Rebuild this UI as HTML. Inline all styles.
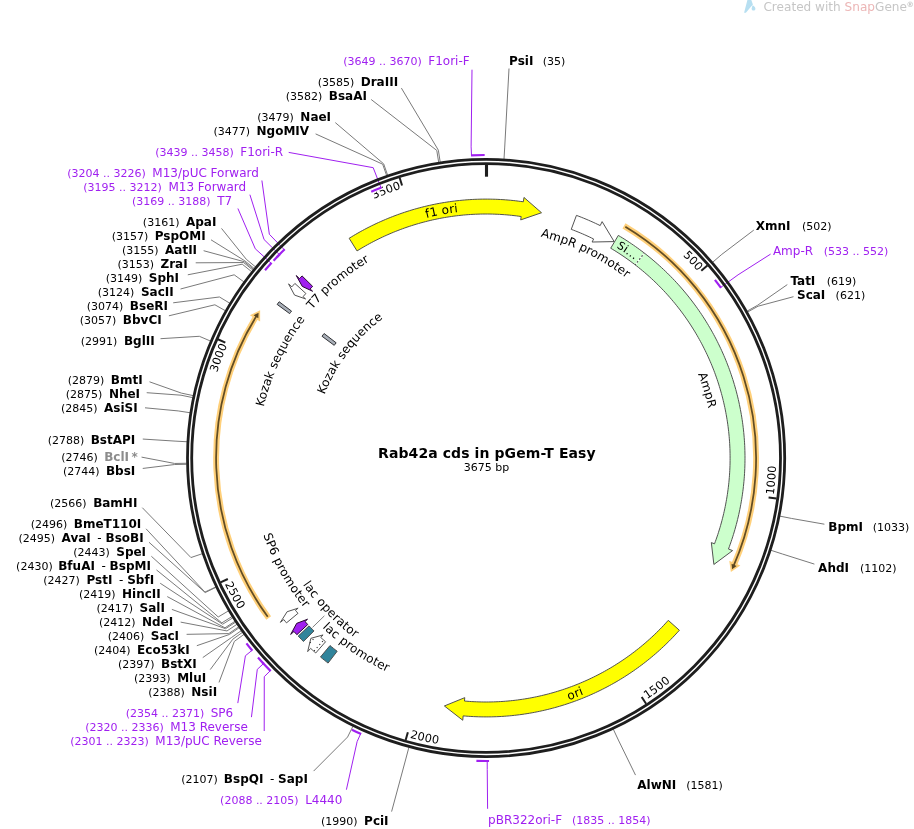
<!DOCTYPE html>
<html lang="en"><head><meta charset="utf-8"><title>Rab42a cds in pGem-T Easy</title>
<style>html,body{margin:0;padding:0;background:#fff}body{width:914px;height:829px;overflow:hidden}svg{display:block;will-change:transform}text{font-family:'DejaVu Sans','Liberation Sans',sans-serif}</style>
</head><body>
<svg width="914" height="829" viewBox="0 0 914 829">
<rect width="914" height="829" fill="#fff"/>
<g id="watermark">
<path d="M747.4,0 L751.3,0 L752.9,4.4 Q749.2,8.6 745.9,12.7 L744.1,12.8 Z" fill="#b7dff1"/>
<path d="M752.6,5.2 C754.4,6.2 755.6,7.6 755.4,9.0 C755.2,10.3 754.0,10.9 753.0,10.5 C751.9,10.1 751.4,9.0 751.7,7.9 Z" fill="#b7dff1"/>
<text x="763.4" y="10.9" font-size="12.1" fill="#c6c6c6">Created with <tspan fill="#ecb6b6">Snap</tspan>Gene<tspan font-size="7.4" font-weight="bold" dy="-4.3" dx="-0.4">®</tspan></text>
</g>
<g id="ticklabels">
<path id="tk500" d="M645.31,224.88 A282.3,282.3 0 0 1 698.03,271.51" fill="none"/>
<text font-size="11.3" letter-spacing="0.2" fill="#000" text-anchor="end"><textPath href="#tk500" startOffset="100%">500</textPath></text>
<path id="tk1000" d="M773.73,494.98 A290,290 0 0 0 773.94,422.67" fill="none"/>
<text font-size="11.3" letter-spacing="0.2" fill="#000"><textPath href="#tk1000" startOffset="0">1000</textPath></text>
<path id="tk1500" d="M646.98,699.29 A290,290 0 0 0 701.67,651.98" fill="none"/>
<text font-size="11.3" letter-spacing="0.2" fill="#000"><textPath href="#tk1500" startOffset="0">1500</textPath></text>
<path id="tk2000" d="M409.64,737.74 A290,290 0 0 0 481.23,747.96" fill="none"/>
<text font-size="11.3" letter-spacing="0.2" fill="#000"><textPath href="#tk2000" startOffset="0">2000</textPath></text>
<path id="tk2500" d="M224.86,583.92 A290,290 0 0 0 264.14,644.63" fill="none"/>
<text font-size="11.3" letter-spacing="0.2" fill="#000"><textPath href="#tk2500" startOffset="0">2500</textPath></text>
<path id="tk3000" d="M207.45,412.73 A282.3,282.3 0 0 1 227.32,345.19" fill="none"/>
<text font-size="11.3" letter-spacing="0.2" fill="#000" text-anchor="end"><textPath href="#tk3000" startOffset="100%">3000</textPath></text>
<path id="tk3500" d="M337.38,218.05 A282.3,282.3 0 0 1 401.36,188.72" fill="none"/>
<text font-size="11.3" letter-spacing="0.2" fill="#000" text-anchor="end"><textPath href="#tk3500" startOffset="100%">3500</textPath></text>
</g>
<g id="halos">
<path d="M470.97,155.38 A303,303 0 0 1 484.66,155" fill="none" stroke="#fff" stroke-width="4.2"/>
<path d="M371.24,191.71 A290,290 0 0 1 381.51,187.52" fill="none" stroke="#fff" stroke-width="4.2"/>
<path d="M276.66,257.41 A290,290 0 0 1 284.71,249.33" fill="none" stroke="#fff" stroke-width="4.2"/>
<path d="M273.6,260.66 A290,290 0 0 1 279.77,254.21" fill="none" stroke="#fff" stroke-width="4.2"/>
<path d="M265.03,270.31 A290,290 0 0 1 271.6,262.84" fill="none" stroke="#fff" stroke-width="4.2"/>
<path d="M252.34,650.78 A303,303 0 0 1 246.45,643.41" fill="none" stroke="#fff" stroke-width="4.2"/>
<path d="M263.91,664.01 A303,303 0 0 1 258,657.44" fill="none" stroke="#fff" stroke-width="4.2"/>
<path d="M270.71,671.11 A303,303 0 0 1 262.49,662.47" fill="none" stroke="#fff" stroke-width="4.2"/>
<path d="M361.15,734.04 A303,303 0 0 1 351.89,729.66" fill="none" stroke="#fff" stroke-width="4.2"/>
<path d="M714.92,279.84 A290,290 0 0 1 720.99,287.92" fill="none" stroke="#fff" stroke-width="4.2"/>
<path d="M489.06,760.99 A303,303 0 0 1 476.4,760.84" fill="none" stroke="#fff" stroke-width="4.2"/>
</g>
<g id="leaders">
<path d="M471.52,155.35 L471.11,146.86 L472,69.7" fill="none" stroke="#a020f0" stroke-width="1"/>
<path d="M440.2,162.04 L438.36,150.18 L401.4,88.1" fill="none" stroke="#7a7a7a" stroke-width="1"/>
<path d="M438.68,162.28 L436.78,150.43 L371.2,99.5" fill="none" stroke="#7a7a7a" stroke-width="1"/>
<path d="M387.6,175.16 L383.66,163.83 L335.3,122.6" fill="none" stroke="#7a7a7a" stroke-width="1"/>
<path d="M386.64,175.5 L382.65,164.18 L315.6,133.9" fill="none" stroke="#7a7a7a" stroke-width="1"/>
<path d="M380.99,187.72 L373.2,167.68 L288.7,152.4" fill="none" stroke="#a020f0" stroke-width="1"/>
<path d="M284.31,249.72 L269.35,234.27 L261.9,180.5" fill="none" stroke="#a020f0" stroke-width="1"/>
<path d="M279.39,254.6 L264.06,239.52 L249.9,194.7" fill="none" stroke="#a020f0" stroke-width="1"/>
<path d="M271.23,263.24 L255.3,248.8 L237.9,208.5" fill="none" stroke="#a020f0" stroke-width="1"/>
<path d="M255.49,266.89 L246.25,259.24 L221.5,228.4" fill="none" stroke="#7a7a7a" stroke-width="1"/>
<path d="M254.19,268.48 L244.9,260.88 L211,239.8" fill="none" stroke="#7a7a7a" stroke-width="1"/>
<path d="M253.55,269.27 L244.23,261.71 L203.6,250.7" fill="none" stroke="#7a7a7a" stroke-width="1"/>
<path d="M252.9,270.07 L243.56,262.54 L195.7,262.8" fill="none" stroke="#7a7a7a" stroke-width="1"/>
<path d="M251.62,271.67 L242.23,264.2 L187.8,274.8" fill="none" stroke="#7a7a7a" stroke-width="1"/>
<path d="M243.87,281.85 L234.17,274.8 L180.5,289" fill="none" stroke="#7a7a7a" stroke-width="1"/>
<path d="M229.72,303.18 L219.45,296.98 L173.2,302.8" fill="none" stroke="#7a7a7a" stroke-width="1"/>
<path d="M225.33,310.7 L214.88,304.79 L168.9,315.8" fill="none" stroke="#7a7a7a" stroke-width="1"/>
<path d="M210.4,341 L199.35,336.31 L160.5,338.7" fill="none" stroke="#7a7a7a" stroke-width="1"/>
<path d="M193.17,395.61 L181.43,393.11 L149.5,381.8" fill="none" stroke="#7a7a7a" stroke-width="1"/>
<path d="M192.75,397.61 L181,395.19 L146.7,392.7" fill="none" stroke="#7a7a7a" stroke-width="1"/>
<path d="M190.04,412.73 L178.18,410.92 L145,407.8" fill="none" stroke="#7a7a7a" stroke-width="1"/>
<path d="M187.04,441.75 L175.06,441.1 L142.78,439.05" fill="none" stroke="#7a7a7a" stroke-width="1"/>
<path d="M186.65,463.25 L174.65,463.46 L141.55,457.12" fill="none" stroke="#7a7a7a" stroke-width="1"/>
<path d="M186.67,464.27 L174.67,464.52 L142.74,468.45" fill="none" stroke="#7a7a7a" stroke-width="1"/>
<path d="M202.3,553.71 L190.93,557.55 L142.3,507.66" fill="none" stroke="#7a7a7a" stroke-width="1"/>
<path d="M215.76,586.91 L204.93,592.07 L146.06,528.8" fill="none" stroke="#7a7a7a" stroke-width="1"/>
<path d="M215.98,587.37 L205.16,592.55 L149.01,542.24" fill="none" stroke="#7a7a7a" stroke-width="1"/>
<path d="M228.54,610.84 L218.22,616.97 L151.37,556.28" fill="none" stroke="#7a7a7a" stroke-width="1"/>
<path d="M232,616.53 L221.82,622.88 L156.48,569.92" fill="none" stroke="#7a7a7a" stroke-width="1"/>
<path d="M232.81,617.83 L222.66,624.23 L160.19,583.22" fill="none" stroke="#7a7a7a" stroke-width="1"/>
<path d="M235.02,621.28 L224.96,627.82 L167.26,596.59" fill="none" stroke="#7a7a7a" stroke-width="1"/>
<path d="M235.58,622.14 L225.55,628.71 L171.89,609.41" fill="none" stroke="#7a7a7a" stroke-width="1"/>
<path d="M236.99,624.27 L227.01,630.94 L180.65,622.11" fill="none" stroke="#7a7a7a" stroke-width="1"/>
<path d="M238.71,626.82 L228.8,633.58 L186.6,634.34" fill="none" stroke="#7a7a7a" stroke-width="1"/>
<path d="M239.29,627.67 L229.4,634.46 L196.83,645.7" fill="none" stroke="#7a7a7a" stroke-width="1"/>
<path d="M241.34,630.61 L231.53,637.52 L202.76,657.58" fill="none" stroke="#7a7a7a" stroke-width="1"/>
<path d="M242.53,632.28 L232.77,639.26 L210.23,669.6" fill="none" stroke="#7a7a7a" stroke-width="1"/>
<path d="M244.03,634.35 L234.33,641.42 L219.01,682.44" fill="none" stroke="#7a7a7a" stroke-width="1"/>
<path d="M251.99,650.36 L245.42,655.75 L237.8,703.1" fill="none" stroke="#a020f0" stroke-width="1"/>
<path d="M263.53,663.6 L257.29,669.37 L251.44,717.14" fill="none" stroke="#a020f0" stroke-width="1"/>
<path d="M270.32,670.72 L264.27,676.68 L264.21,731" fill="none" stroke="#a020f0" stroke-width="1"/>
<path d="M352.93,726.27 L347.6,737.01 L313.6,771.1" fill="none" stroke="#7a7a7a" stroke-width="1"/>
<path d="M360.65,733.81 L357.13,741.55 L346.4,789.7" fill="none" stroke="#a020f0" stroke-width="1"/>
<path d="M408.89,747.38 L405.8,758.97 L391.6,811.6" fill="none" stroke="#7a7a7a" stroke-width="1"/>
<path d="M504.01,159.04 L504.73,147.06 L509,68.5" fill="none" stroke="#7a7a7a" stroke-width="1"/>
<path d="M712.74,262.2 L721.82,254.36 L753.8,230.1" fill="none" stroke="#7a7a7a" stroke-width="1"/>
<path d="M720.66,287.47 L738.05,274.83 L770.6,254.1" fill="none" stroke="#a020f0" stroke-width="1"/>
<path d="M747.12,311.14 L757.58,305.26 L787.3,284.6" fill="none" stroke="#7a7a7a" stroke-width="1"/>
<path d="M747.62,312.04 L758.1,306.19 L793.5,296.7" fill="none" stroke="#7a7a7a" stroke-width="1"/>
<path d="M779.9,516.13 L791.68,518.46 L824.4,524.2" fill="none" stroke="#7a7a7a" stroke-width="1"/>
<path d="M771.02,550.31 L782.44,554.01 L814.4,564.1" fill="none" stroke="#7a7a7a" stroke-width="1"/>
<path d="M613.27,729.16 L618.37,740.02 L635.5,775.1" fill="none" stroke="#7a7a7a" stroke-width="1"/>
<path d="M487.21,761 L487.24,769.5 L487.6,808.8" fill="none" stroke="#a020f0" stroke-width="1"/>
</g>
<g id="backbone" fill="none" stroke="#1e1e1e" stroke-width="2.8">
<circle cx="486.1" cy="458" r="298.6"/>
<circle cx="486.1" cy="458" r="294.4"/>
</g>
<g id="primers">
<path d="M470.97,155.38 A303,303 0 0 1 484.66,155" fill="none" stroke="#a020f0" stroke-width="2.2"/>
<path d="M371.24,191.71 A290,290 0 0 1 381.51,187.52" fill="none" stroke="#a020f0" stroke-width="2.2"/>
<path d="M276.66,257.41 A290,290 0 0 1 284.71,249.33" fill="none" stroke="#a020f0" stroke-width="2.2"/>
<path d="M273.6,260.66 A290,290 0 0 1 279.77,254.21" fill="none" stroke="#a020f0" stroke-width="2.2"/>
<path d="M265.03,270.31 A290,290 0 0 1 271.6,262.84" fill="none" stroke="#a020f0" stroke-width="2.2"/>
<path d="M252.34,650.78 A303,303 0 0 1 246.45,643.41" fill="none" stroke="#a020f0" stroke-width="2.2"/>
<path d="M263.91,664.01 A303,303 0 0 1 258,657.44" fill="none" stroke="#a020f0" stroke-width="2.2"/>
<path d="M270.71,671.11 A303,303 0 0 1 262.49,662.47" fill="none" stroke="#a020f0" stroke-width="2.2"/>
<path d="M361.15,734.04 A303,303 0 0 1 351.89,729.66" fill="none" stroke="#a020f0" stroke-width="2.2"/>
<path d="M714.92,279.84 A290,290 0 0 1 720.99,287.92" fill="none" stroke="#a020f0" stroke-width="2.2"/>
<path d="M489.06,760.99 A303,303 0 0 1 476.4,760.84" fill="none" stroke="#a020f0" stroke-width="2.2"/>
</g>
<g id="ticks">
<path d="M486.5,164 L486.5,176.7" stroke="#1e1e1e" stroke-width="3.1"/>
<path d="M707.39,265.5 L701.28,270.82" stroke="#1e1e1e" stroke-width="2"/>
<path d="M776.57,498.61 L768.55,497.49" stroke="#1e1e1e" stroke-width="2"/>
<path d="M646.11,703.81 L641.69,697.02" stroke="#1e1e1e" stroke-width="2"/>
<path d="M405.66,740.05 L407.88,732.26" stroke="#1e1e1e" stroke-width="2"/>
<path d="M220.5,582.43 L227.84,578.99" stroke="#1e1e1e" stroke-width="2"/>
<path d="M217.9,339.28 L225.31,342.56" stroke="#1e1e1e" stroke-width="2"/>
<path d="M399.65,177.73 L402.04,185.47" stroke="#1e1e1e" stroke-width="2"/>
</g>
<g id="orfs">
<path d="M623.99,225.86 A270,270 0 0 1 734.16,564.61" fill="none" stroke="#ffd07a" stroke-width="5.9" stroke-linecap="butt"/><path d="M730.89,571.92 L740.31,565.48 L729.26,560.8 Z" fill="#ffd07a"/><path d="M625.36,226.69 A270,270 0 0 1 733.36,566.45" fill="none" stroke="#5a4620" stroke-width="1.75" stroke-opacity="0.95"/><path d="M732.1,569.28 L736.65,565.9 L731.51,563.69 Z" fill="#5a4620"/>
<path d="M268.69,618.1 A270,270 0 0 1 255.85,316.98" fill="none" stroke="#ffd07a" stroke-width="5.9" stroke-linecap="butt"/><path d="M260.13,310.22 L249.89,315.25 L260.16,321.45 Z" fill="#ffd07a"/><path d="M267.74,616.81 A270,270 0 0 1 256.9,315.28" fill="none" stroke="#5a4620" stroke-width="1.75" stroke-opacity="0.95"/><path d="M258.56,312.66 L253.57,315.35 L258.34,318.28 Z" fill="#5a4620"/>
</g>
<g id="features" stroke-linejoin="miter">
<path d="M349.15,238.28 L351.33,236.94 L353.52,235.62 L355.73,234.32 L357.94,233.04 L360.17,231.79 L362.42,230.55 L364.67,229.34 L366.94,228.15 L369.21,226.99 L371.5,225.84 L373.8,224.72 L376.11,223.62 L378.43,222.55 L380.77,221.5 L383.11,220.47 L385.46,219.46 L387.82,218.48 L390.19,217.52 L392.58,216.58 L394.97,215.67 L397.37,214.78 L399.77,213.92 L402.19,213.07 L404.61,212.26 L407.05,211.46 L409.49,210.69 L411.94,209.95 L414.39,209.23 L416.85,208.53 L419.32,207.86 L421.8,207.21 L424.28,206.59 L426.77,205.99 L429.26,205.42 L431.76,204.87 L434.26,204.34 L436.77,203.84 L439.29,203.37 L441.8,202.92 L444.33,202.49 L446.86,202.09 L449.39,201.72 L451.92,201.37 L454.46,201.04 L457,200.74 L459.54,200.47 L462.09,200.22 L464.64,199.99 L467.19,199.79 L469.74,199.62 L472.3,199.47 L474.85,199.34 L477.41,199.25 L479.97,199.17 L482.52,199.12 L485.08,199.1 L487.64,199.1 L490.2,199.13 L492.76,199.19 L495.32,199.26 L497.87,199.37 L500.43,199.5 L502.98,199.65 L505.53,199.83 L508.08,200.04 L510.63,200.26 L513.18,200.52 L515.72,200.8 L518.26,201.11 L520.8,201.44 L523.33,201.79 L523.97,197.44 L541.53,212.74 L520.7,219.9 L521.19,216.54 L518.8,216.2 L516.41,215.89 L514.02,215.6 L511.62,215.34 L509.22,215.1 L506.82,214.88 L504.42,214.69 L502.01,214.52 L499.6,214.37 L497.19,214.25 L494.79,214.15 L492.38,214.08 L489.96,214.03 L487.55,214 L485.14,214 L482.73,214.02 L480.32,214.07 L477.91,214.14 L475.5,214.23 L473.09,214.35 L470.68,214.49 L468.28,214.65 L465.87,214.84 L463.47,215.05 L461.07,215.29 L458.67,215.55 L456.28,215.83 L453.89,216.14 L451.5,216.47 L449.11,216.82 L446.73,217.2 L444.35,217.6 L441.98,218.02 L439.61,218.47 L437.25,218.94 L434.89,219.44 L432.53,219.95 L430.18,220.49 L427.84,221.06 L425.5,221.65 L423.16,222.26 L420.84,222.89 L418.52,223.55 L416.2,224.23 L413.9,224.93 L411.6,225.65 L409.3,226.4 L407.02,227.17 L404.74,227.96 L402.47,228.78 L400.21,229.62 L397.96,230.48 L395.71,231.36 L393.48,232.26 L391.25,233.19 L389.04,234.14 L386.83,235.11 L384.63,236.1 L382.44,237.11 L380.26,238.15 L378.1,239.2 L375.94,240.28 L373.79,241.38 L371.66,242.5 L369.53,243.64 L367.42,244.81 L365.32,245.99 L363.23,247.19 L361.15,248.42 L359.09,249.66 L357.04,250.93Z" fill="#ffff00" stroke="#4a4a4a" stroke-width="0.95"/>
<path d="M576.45,215.38 L578.87,216.29 L581.28,217.23 L583.68,218.19 L586.07,219.18 L588.45,220.19 L590.82,221.22 L593.17,222.28 L595.52,223.36 L597.86,224.46 L600.19,225.59 L602.13,221.64 L614.14,241.59 L592.12,242.02 L593.62,238.97 L591.43,237.91 L589.23,236.86 L587.01,235.85 L584.79,234.85 L582.56,233.87 L580.31,232.92 L578.06,231.99 L575.8,231.09 L573.53,230.2 L571.25,229.34Z" fill="#ffffff" stroke="#4a4a4a" stroke-width="0.95"/>
<path d="M618.32,235.41 L620.53,236.74 L622.73,238.09 L624.91,239.46 L627.08,240.85 L629.23,242.26 L631.37,243.7 L633.5,245.16 L635.61,246.64 L637.71,248.13 L639.79,249.66 L641.86,251.2 L643.91,252.76 L645.95,254.34 L647.97,255.94 L649.97,257.56 L651.96,259.2 L653.93,260.87 L655.89,262.55 L657.82,264.25 L659.74,265.97 L661.65,267.71 L663.53,269.46 L665.4,271.24 L667.25,273.03 L669.09,274.85 L670.9,276.68 L672.7,278.53 L674.48,280.39 L676.23,282.28 L677.98,284.18 L679.7,286.1 L681.4,288.04 L683.08,289.99 L684.74,291.96 L686.39,293.95 L688.01,295.95 L689.62,297.97 L691.2,300 L692.76,302.05 L694.3,304.12 L695.83,306.2 L697.33,308.29 L698.81,310.4 L700.27,312.53 L701.71,314.67 L703.12,316.82 L704.52,318.99 L705.89,321.17 L707.24,323.37 L708.57,325.58 L709.88,327.8 L711.16,330.03 L712.43,332.28 L713.67,334.54 L714.89,336.81 L716.08,339.1 L717.25,341.39 L718.4,343.7 L719.53,346.02 L720.63,348.35 L721.71,350.69 L722.77,353.04 L723.8,355.41 L724.81,357.78 L725.8,360.16 L726.76,362.55 L727.7,364.95 L728.62,367.36 L729.51,369.78 L730.37,372.21 L731.22,374.65 L732.03,377.09 L732.83,379.55 L733.6,382.01 L734.34,384.47 L735.06,386.95 L735.76,389.43 L736.43,391.92 L737.07,394.42 L737.69,396.92 L738.29,399.43 L738.86,401.94 L739.4,404.46 L739.92,406.99 L740.42,409.52 L740.89,412.05 L741.34,414.59 L741.75,417.14 L742.15,419.68 L742.52,422.23 L742.86,424.79 L743.18,427.35 L743.47,429.91 L743.74,432.47 L743.98,435.04 L744.2,437.61 L744.39,440.18 L744.55,442.75 L744.69,445.33 L744.8,447.9 L744.89,450.48 L744.95,453.06 L744.99,455.64 L745,458.21 L744.98,460.79 L744.94,463.37 L744.88,465.95 L744.79,468.52 L744.67,471.1 L744.53,473.67 L744.36,476.25 L744.16,478.82 L743.94,481.38 L743.7,483.95 L743.42,486.51 L743.13,489.08 L742.81,491.63 L742.46,494.19 L742.09,496.74 L741.69,499.29 L741.26,501.83 L740.81,504.37 L740.34,506.9 L739.84,509.43 L739.32,511.96 L738.77,514.47 L738.19,516.99 L737.59,519.49 L736.97,522 L736.32,524.49 L735.64,526.98 L734.94,529.46 L734.22,531.93 L733.47,534.4 L732.7,536.86 L731.9,539.31 L731.08,541.76 L730.23,544.19 L729.36,546.62 L728.47,549.04 L732.59,550.58 L713.89,564.48 L711.34,542.6 L714.52,543.8 L715.36,541.52 L716.18,539.23 L716.98,536.94 L717.75,534.63 L718.51,532.32 L719.23,530.01 L719.94,527.68 L720.62,525.35 L721.28,523.01 L721.92,520.66 L722.53,518.31 L723.12,515.96 L723.68,513.59 L724.22,511.22 L724.74,508.85 L725.24,506.47 L725.71,504.09 L726.15,501.7 L726.58,499.31 L726.98,496.91 L727.35,494.51 L727.7,492.11 L728.03,489.7 L728.34,487.29 L728.62,484.87 L728.87,482.46 L729.1,480.04 L729.31,477.62 L729.49,475.2 L729.65,472.77 L729.79,470.34 L729.9,467.92 L729.99,465.49 L730.05,463.06 L730.09,460.63 L730.1,458.2 L730.09,455.77 L730.06,453.34 L730,450.91 L729.91,448.48 L729.81,446.06 L729.68,443.63 L729.52,441.21 L729.34,438.78 L729.14,436.36 L728.91,433.94 L728.66,431.53 L728.38,429.11 L728.08,426.7 L727.76,424.29 L727.41,421.89 L727.04,419.49 L726.65,417.09 L726.23,414.7 L725.78,412.31 L725.32,409.92 L724.83,407.54 L724.31,405.17 L723.77,402.8 L723.21,400.44 L722.63,398.08 L722.02,395.72 L721.39,393.38 L720.73,391.04 L720.05,388.71 L719.35,386.38 L718.63,384.06 L717.88,381.75 L717.11,379.44 L716.31,377.15 L715.5,374.86 L714.66,372.58 L713.8,370.31 L712.91,368.04 L712.01,365.79 L711.08,363.55 L710.12,361.31 L709.15,359.08 L708.15,356.87 L707.14,354.66 L706.1,352.47 L705.03,350.28 L703.95,348.11 L702.85,345.94 L701.72,343.79 L700.57,341.65 L699.4,339.52 L698.21,337.4 L697,335.29 L695.77,333.2 L694.52,331.12 L693.24,329.05 L691.95,326.99 L690.63,324.95 L689.3,322.92 L687.94,320.9 L686.57,318.9 L685.17,316.91 L683.76,314.93 L682.32,312.97 L680.87,311.03 L679.4,309.09 L677.9,307.18 L676.39,305.27 L674.86,303.39 L673.31,301.52 L671.74,299.66 L670.16,297.82 L668.55,295.99 L666.93,294.18 L665.29,292.39 L663.63,290.62 L661.96,288.86 L660.27,287.11 L658.56,285.39 L656.83,283.68 L655.08,281.99 L653.32,280.31 L651.55,278.66 L649.75,277.02 L647.94,275.4 L646.11,273.8 L644.27,272.21 L642.41,270.65 L640.54,269.1 L638.65,267.57 L636.75,266.06 L634.83,264.57 L632.9,263.1 L630.95,261.65 L628.99,260.21 L627.01,258.8 L625.02,257.41 L623.01,256.03 L621,254.68 L618.96,253.35 L616.92,252.03 L614.86,250.74 L612.79,249.47 L610.71,248.22Z" fill="#ccffcc" stroke="#4a4a4a" stroke-width="0.95"/>
<path d="M644.3,253.06 L635.2,264.85" stroke="#fff" stroke-width="1.1" fill="none"/>
<path d="M644.3,253.06 L635.2,264.85" stroke="#333" stroke-width="1.1" stroke-dasharray="1.6 2.1" stroke-dashoffset="0.8" fill="none"/>
<path d="M679.39,630.25 L677.67,632.16 L675.93,634.05 L674.18,635.92 L672.41,637.77 L670.62,639.61 L668.81,641.43 L666.98,643.23 L665.14,645.02 L663.27,646.78 L661.39,648.53 L659.5,650.26 L657.58,651.97 L655.65,653.66 L653.7,655.33 L651.74,656.98 L649.76,658.61 L647.76,660.22 L645.75,661.81 L643.72,663.39 L641.68,664.94 L639.62,666.47 L637.55,667.98 L635.46,669.47 L633.36,670.94 L631.24,672.39 L629.11,673.82 L626.96,675.23 L624.8,676.61 L622.63,677.98 L620.44,679.32 L618.24,680.64 L616.03,681.94 L613.8,683.21 L611.56,684.47 L609.31,685.7 L607.05,686.91 L604.78,688.1 L602.49,689.26 L600.19,690.41 L597.88,691.52 L595.56,692.62 L593.23,693.69 L590.89,694.74 L588.54,695.77 L586.18,696.77 L583.81,697.76 L581.43,698.71 L579.04,699.64 L576.64,700.55 L574.23,701.44 L571.81,702.3 L569.39,703.14 L566.95,703.95 L564.51,704.74 L562.06,705.51 L559.6,706.25 L557.14,706.96 L554.67,707.65 L552.19,708.32 L549.71,708.96 L547.22,709.58 L544.72,710.18 L542.22,710.74 L539.71,711.29 L537.2,711.81 L534.68,712.3 L532.16,712.77 L529.63,713.21 L527.1,713.63 L524.56,714.03 L522.02,714.4 L519.48,714.74 L516.93,715.06 L514.39,715.35 L511.83,715.62 L509.28,715.86 L506.72,716.08 L504.16,716.27 L501.6,716.44 L499.04,716.58 L496.48,716.69 L493.91,716.78 L491.35,716.85 L488.78,716.89 L486.22,716.9 L483.65,716.89 L481.08,716.85 L478.52,716.79 L475.96,716.7 L473.39,716.59 L470.83,716.45 L468.27,716.29 L465.71,716.1 L463.15,715.88 L462.76,720.26 L444.38,705.96 L464.78,697.65 L464.47,701.04 L466.88,701.24 L469.3,701.42 L471.71,701.58 L474.12,701.71 L476.54,701.81 L478.96,701.9 L481.37,701.95 L483.79,701.99 L486.21,702 L488.63,701.99 L491.05,701.95 L493.46,701.89 L495.88,701.8 L498.3,701.69 L500.71,701.56 L503.12,701.41 L505.54,701.22 L507.95,701.02 L510.35,700.79 L512.76,700.54 L515.16,700.26 L517.56,699.96 L519.96,699.64 L522.35,699.29 L524.74,698.92 L527.13,698.53 L529.51,698.11 L531.88,697.67 L534.26,697.2 L536.63,696.71 L538.99,696.2 L541.35,695.66 L543.7,695.1 L546.05,694.52 L548.39,693.92 L550.72,693.29 L553.05,692.63 L555.37,691.96 L557.69,691.26 L560,690.54 L562.3,689.8 L564.59,689.03 L566.88,688.24 L569.16,687.43 L571.43,686.59 L573.69,685.74 L575.94,684.86 L578.18,683.96 L580.42,683.03 L582.64,682.09 L584.86,681.12 L587.07,680.13 L589.26,679.12 L591.45,678.08 L593.63,677.03 L595.79,675.95 L597.95,674.86 L600.09,673.74 L602.22,672.6 L604.34,671.43 L606.45,670.25 L608.55,669.05 L610.64,667.83 L612.71,666.58 L614.77,665.32 L616.82,664.03 L618.85,662.72 L620.88,661.4 L622.89,660.05 L624.88,658.69 L626.86,657.3 L628.83,655.9 L630.79,654.47 L632.73,653.03 L634.65,651.57 L636.56,650.08 L638.46,648.58 L640.34,647.06 L642.21,645.53 L644.06,643.97 L645.89,642.4 L647.71,640.8 L649.52,639.19 L651.31,637.56 L653.08,635.92 L654.83,634.25 L656.57,632.57 L658.29,630.87 L660,629.16 L661.69,627.43 L663.36,625.68 L665.01,623.91 L666.64,622.13 L668.26,620.34Z" fill="#ffff00" stroke="#4a4a4a" stroke-width="0.95"/>
<path d="M328.07,663.08 L326.15,661.58 L324.25,660.07 L322.35,658.54 L320.47,656.99 L330.01,645.54 L331.78,647 L333.56,648.44 L335.36,649.87 L337.17,651.28Z" fill="#31849b" stroke="#4a4a4a" stroke-width="0.95"/>
<path d="M315.76,652.97 L314.04,651.46 L312.34,649.93 L310.65,648.39 L307.67,651.62 L310.86,638.33 L323.05,634.93 L320.75,637.43 L322.34,638.88 L323.95,640.32 L325.56,641.75Z" fill="#ffffff" stroke="#4a4a4a" stroke-width="0.95"/>
<path d="M314.1,650.84 L323.35,640.47" stroke="#222" stroke-width="1.1" stroke-dasharray="1.1 2.9" fill="none"/>
<path d="M309.9,642.89 L315.35,637.17" stroke="#222" stroke-width="1.1" stroke-dasharray="1.1 2.9" fill="none"/>
<path d="M303.46,641.5 L301.69,639.72 L299.94,637.93 L298.21,636.11 L309.02,625.86 L310.65,627.57 L312.3,629.26 L313.97,630.94Z" fill="#31849b" stroke="#4a4a4a" stroke-width="0.95"/>
<path d="M296.87,634.7 L295.4,633.1 L293.94,631.5 L290.67,634.45 L296.67,623.36 L307.52,619.24 L305,621.52 L306.37,623.03 L307.76,624.53Z" fill="#a020f0" stroke="#26082e" stroke-width="1"/>
<path d="M286.47,622.86 L285.14,621.23 L283.82,619.59 L280.38,622.34 L287.12,611.73 L298.12,608.17 L295.46,610.29 L296.71,611.84 L297.96,613.37Z" fill="#ffffff" stroke="#4a4a4a" stroke-width="0.95"/>
<path d="M294.89,283.45 L293.37,285.13 L291.86,286.83 L288.56,283.92 L294.56,295.08 L305.59,298.93 L303.04,296.68 L304.46,295.08 L305.89,293.5Z" fill="#ffffff" stroke="#4a4a4a" stroke-width="0.95"/>
<path d="M302.05,275.91 L300.74,277.25 L299.43,278.6 L296.26,275.56 L302.29,286.42 L312.62,291.28 L310.17,288.93 L311.4,287.66 L312.65,286.39Z" fill="#a020f0" stroke="#26082e" stroke-width="1"/>
<path d="M277.17,304.42 L278.16,303.09 L279.16,301.76 L291.53,311.1 L290.59,312.35 L289.66,313.6Z" fill="#a9afb8" stroke="#303236" stroke-width="1"/>
<path d="M322.03,336.27 L323.05,334.9 L324.09,333.54 L336.14,342.8 L335.18,344.06 L334.23,345.33Z" fill="#a9afb8" stroke="#303236" stroke-width="1"/>
</g>
<g id="flabels" font-size="12" fill="#000">
<path id="c1" d="M253.33,374.2 A247.4,247.4 0 0 1 675.06,298.31" fill="none"/>
<text font-size="12" text-anchor="middle" letter-spacing="0.2"><textPath href="#c1" startOffset="50%">f1 ori</textPath></text>
<path id="c2" d="M358.27,269.2 A228,228 0 0 1 713.52,441.7" fill="none"/>
<text font-size="12" text-anchor="middle" letter-spacing="0.05"><textPath href="#c2" startOffset="50%">AmpR promoter</textPath></text>
<path id="c3" d="M378.94,234.84 A247.55,247.55 0 0 1 732.94,476.78" fill="none"/>
<text font-size="11" text-anchor="middle" letter-spacing="0.5"><textPath href="#c3" startOffset="50%">Si...</textPath></text>
<path id="c4" d="M537.15,235.99 A227.8,227.8 0 0 1 652.84,613.21" fill="none"/>
<text font-size="12" text-anchor="middle" letter-spacing="0.2"><textPath href="#c4" startOffset="50%">AmpR</textPath></text>
<path id="c5" d="M324.08,655.95 A255.8,255.8 0 0 0 738.54,499.34" fill="none"/>
<text font-size="12" text-anchor="middle" letter-spacing="0.4"><textPath href="#c5" startOffset="50%">ori</textPath></text>
<path id="c6" d="M251.09,439.92 A235.7,235.7 0 0 0 587.94,670.56" fill="none"/>
<text font-size="12" text-anchor="middle" letter-spacing="0.2"><textPath href="#c6" startOffset="50%">lac promoter</textPath></text>
<path id="c7" d="M271.71,397.74 A222.7,222.7 0 0 0 541.11,673.8" fill="none"/>
<text font-size="12" text-anchor="middle" letter-spacing="0.2"><textPath href="#c7" startOffset="50%">lac operator</textPath></text>
<path id="c8" d="M283.43,337.67 A235.7,235.7 0 0 0 483.22,693.68" fill="none"/>
<text font-size="12" text-anchor="middle" letter-spacing="0.2"><textPath href="#c8" startOffset="50%">SP6 promoter</textPath></text>
<path id="c9" d="M298.88,588.12 A228,228 0 0 1 467.02,230.8" fill="none"/>
<text font-size="12" text-anchor="middle" letter-spacing="0.05"><textPath href="#c9" startOffset="50%">Kozak sequence</textPath></text>
<path id="c10" d="M260.85,498.12 A228.8,228.8 0 0 1 563.98,242.86" fill="none"/>
<text font-size="12" text-anchor="middle" letter-spacing="0.1"><textPath href="#c10" startOffset="50%">T7 promoter</textPath></text>
<path id="c11" d="M325.81,524.4 A173.5,173.5 0 0 1 508.75,285.98" fill="none"/>
<text font-size="12" text-anchor="middle" letter-spacing="0.05"><textPath href="#c11" startOffset="50%">Kozak sequence</textPath></text>
</g>
<path d="M312.55,627.37 L324.36,615.85" stroke="#808080" stroke-width="1" fill="none"/>
<g id="title" text-anchor="middle" fill="#000">
<text x="486.9" y="458" font-size="14" font-weight="bold" letter-spacing="0.09">Rab42a cds in pGem-T Easy</text>
<text x="486.6" y="471" font-size="11">3675 bp</text>
</g>
<g id="labels">
<text x="421.81" y="65" text-anchor="end" font-size="11" fill="#a020f0">(3649 .. 3670)</text>
<text x="469.7" y="65" text-anchor="end" font-size="12" font-weight="normal" fill="#a020f0">F1ori-F</text>
<text x="354.23" y="86" text-anchor="end" font-size="11" fill="#000">(3585)</text>
<text x="398.1" y="86" text-anchor="end" font-size="12" font-weight="bold" fill="#000">DraIII</text>
<text x="322.26" y="100" text-anchor="end" font-size="11" fill="#000">(3582)</text>
<text x="366.9" y="100" text-anchor="end" font-size="12" font-weight="bold" fill="#000">BsaAI</text>
<text x="293.85" y="121" text-anchor="end" font-size="11" fill="#000">(3479)</text>
<text x="331.1" y="121" text-anchor="end" font-size="12" font-weight="bold" fill="#000">NaeI</text>
<text x="250.02" y="135" text-anchor="end" font-size="11" fill="#000">(3477)</text>
<text x="309.1" y="135" text-anchor="end" font-size="12" font-weight="bold" fill="#000">NgoMIV</text>
<text x="233.77" y="156" text-anchor="end" font-size="11" fill="#a020f0">(3439 .. 3458)</text>
<text x="283.1" y="156" text-anchor="end" font-size="12" font-weight="normal" fill="#a020f0">F1ori-R</text>
<text x="145.87" y="177" text-anchor="end" font-size="11" fill="#a020f0">(3204 .. 3226)</text>
<text x="258.9" y="177" text-anchor="end" font-size="12" font-weight="normal" fill="#a020f0">M13/pUC Forward</text>
<text x="161.9" y="191" text-anchor="end" font-size="11" fill="#a020f0">(3195 .. 3212)</text>
<text x="246.1" y="191" text-anchor="end" font-size="12" font-weight="normal" fill="#a020f0">M13 Forward</text>
<text x="210.63" y="205" text-anchor="end" font-size="11" fill="#a020f0">(3169 .. 3188)</text>
<text x="232.1" y="205" text-anchor="end" font-size="12" font-weight="normal" fill="#a020f0">T7</text>
<text x="179.45" y="226" text-anchor="end" font-size="11" fill="#000">(3161)</text>
<text x="216.4" y="226" text-anchor="end" font-size="12" font-weight="bold" fill="#000">ApaI</text>
<text x="148.26" y="240" text-anchor="end" font-size="11" fill="#000">(3157)</text>
<text x="205.7" y="240" text-anchor="end" font-size="12" font-weight="bold" fill="#000">PspOMI</text>
<text x="158.54" y="254" text-anchor="end" font-size="11" fill="#000">(3155)</text>
<text x="197.1" y="254" text-anchor="end" font-size="12" font-weight="bold" fill="#000">AatII</text>
<text x="154.01" y="268" text-anchor="end" font-size="11" fill="#000">(3153)</text>
<text x="187.7" y="268" text-anchor="end" font-size="12" font-weight="bold" fill="#000">ZraI</text>
<text x="142.25" y="282" text-anchor="end" font-size="11" fill="#000">(3149)</text>
<text x="179" y="282" text-anchor="end" font-size="12" font-weight="bold" fill="#000">SphI</text>
<text x="134.4" y="296" text-anchor="end" font-size="11" fill="#000">(3124)</text>
<text x="173.7" y="296" text-anchor="end" font-size="12" font-weight="bold" fill="#000">SacII</text>
<text x="123.36" y="310" text-anchor="end" font-size="11" fill="#000">(3074)</text>
<text x="168" y="310" text-anchor="end" font-size="12" font-weight="bold" fill="#000">BseRI</text>
<text x="116.36" y="324" text-anchor="end" font-size="11" fill="#000">(3057)</text>
<text x="161.7" y="324" text-anchor="end" font-size="12" font-weight="bold" fill="#000">BbvCI</text>
<text x="117.42" y="345" text-anchor="end" font-size="11" fill="#000">(2991)</text>
<text x="154.7" y="345" text-anchor="end" font-size="12" font-weight="bold" fill="#000">BglII</text>
<text x="104.34" y="384" text-anchor="end" font-size="11" fill="#000">(2879)</text>
<text x="142.7" y="384" text-anchor="end" font-size="12" font-weight="bold" fill="#000">BmtI</text>
<text x="102.4" y="398" text-anchor="end" font-size="11" fill="#000">(2875)</text>
<text x="140.1" y="398" text-anchor="end" font-size="12" font-weight="bold" fill="#000">NheI</text>
<text x="97.54" y="412" text-anchor="end" font-size="11" fill="#000">(2845)</text>
<text x="137.7" y="412" text-anchor="end" font-size="12" font-weight="bold" fill="#000">AsiSI</text>
<text x="84.22" y="444" text-anchor="end" font-size="11" fill="#000">(2788)</text>
<text x="135.3" y="444" text-anchor="end" font-size="12" font-weight="bold" fill="#000">BstAPI</text>
<text x="97.9" y="461" text-anchor="end" font-size="11" fill="#000">(2746)</text>
<text x="137.7" y="461" text-anchor="end" font-size="12" font-weight="bold" fill="#8c8c8c">BclI<tspan dx="2.4" dy="0">*</tspan></text>
<text x="99.46" y="475" text-anchor="end" font-size="11" fill="#000">(2744)</text>
<text x="135.3" y="475" text-anchor="end" font-size="12" font-weight="bold" fill="#000">BbsI</text>
<text x="86.63" y="507" text-anchor="end" font-size="11" fill="#000">(2566)</text>
<text x="137.4" y="507" text-anchor="end" font-size="12" font-weight="bold" fill="#000">BamHI</text>
<text x="67.3" y="528" text-anchor="end" font-size="11" fill="#000">(2496)</text>
<text x="141.3" y="528" text-anchor="end" font-size="12" font-weight="bold" fill="#000">BmeT110I</text>
<text x="55.07" y="542" text-anchor="end" font-size="11" fill="#000">(2495)</text>
<text x="143.7" y="542" text-anchor="end" font-size="12" font-weight="bold" fill="#000">AvaI<tspan font-weight="normal"> </tspan><tspan font-weight="normal" dx="2.7">-</tspan><tspan font-weight="normal"> </tspan>BsoBI</text>
<text x="109.76" y="556" text-anchor="end" font-size="11" fill="#000">(2443)</text>
<text x="146.1" y="556" text-anchor="end" font-size="12" font-weight="bold" fill="#000">SpeI</text>
<text x="52.7" y="570" text-anchor="end" font-size="11" fill="#000">(2430)</text>
<text x="150.9" y="570" text-anchor="end" font-size="12" font-weight="bold" fill="#000">BfuAI<tspan font-weight="normal"> </tspan><tspan font-weight="normal" dx="2.7">-</tspan><tspan font-weight="normal"> </tspan>BspMI</text>
<text x="79.71" y="584" text-anchor="end" font-size="11" fill="#000">(2427)</text>
<text x="154.1" y="584" text-anchor="end" font-size="12" font-weight="bold" fill="#000">PstI<tspan font-weight="normal"> </tspan><tspan font-weight="normal" dx="2.7">-</tspan><tspan font-weight="normal"> </tspan>SbfI</text>
<text x="115.55" y="598" text-anchor="end" font-size="11" fill="#000">(2419)</text>
<text x="160.8" y="598" text-anchor="end" font-size="12" font-weight="bold" fill="#000">HincII</text>
<text x="133.07" y="612" text-anchor="end" font-size="11" fill="#000">(2417)</text>
<text x="164.9" y="612" text-anchor="end" font-size="12" font-weight="bold" fill="#000">SalI</text>
<text x="135.55" y="626" text-anchor="end" font-size="11" fill="#000">(2412)</text>
<text x="173.3" y="626" text-anchor="end" font-size="12" font-weight="bold" fill="#000">NdeI</text>
<text x="144.27" y="640" text-anchor="end" font-size="11" fill="#000">(2406)</text>
<text x="179.1" y="640" text-anchor="end" font-size="12" font-weight="bold" fill="#000">SacI</text>
<text x="130.6" y="654" text-anchor="end" font-size="11" fill="#000">(2404)</text>
<text x="189.8" y="654" text-anchor="end" font-size="12" font-weight="bold" fill="#000">Eco53kI</text>
<text x="154.55" y="668" text-anchor="end" font-size="11" fill="#000">(2397)</text>
<text x="196.8" y="668" text-anchor="end" font-size="12" font-weight="bold" fill="#000">BstXI</text>
<text x="170.64" y="682" text-anchor="end" font-size="11" fill="#000">(2393)</text>
<text x="206.2" y="682" text-anchor="end" font-size="12" font-weight="bold" fill="#000">MluI</text>
<text x="184.83" y="696" text-anchor="end" font-size="11" fill="#000">(2388)</text>
<text x="217.1" y="696" text-anchor="end" font-size="12" font-weight="bold" fill="#000">NsiI</text>
<text x="204.2" y="717" text-anchor="end" font-size="11" fill="#a020f0">(2354 .. 2371)</text>
<text x="233.2" y="717" text-anchor="end" font-size="12" font-weight="normal" fill="#a020f0">SP6</text>
<text x="163.73" y="731" text-anchor="end" font-size="11" fill="#a020f0">(2320 .. 2336)</text>
<text x="247.9" y="731" text-anchor="end" font-size="12" font-weight="normal" fill="#a020f0">M13 Reverse</text>
<text x="148.8" y="745" text-anchor="end" font-size="11" fill="#a020f0">(2301 .. 2323)</text>
<text x="261.8" y="745" text-anchor="end" font-size="12" font-weight="normal" fill="#a020f0">M13/pUC Reverse</text>
<text x="217.71" y="783" text-anchor="end" font-size="11" fill="#000">(2107)</text>
<text x="307.9" y="783" text-anchor="end" font-size="12" font-weight="bold" fill="#000">BspQI<tspan font-weight="normal"> </tspan><tspan font-weight="normal" dx="2.7">-</tspan><tspan font-weight="normal"> </tspan>SapI</text>
<text x="298.67" y="804" text-anchor="end" font-size="11" fill="#a020f0">(2088 .. 2105)</text>
<text x="342.4" y="804" text-anchor="end" font-size="12" font-weight="normal" fill="#a020f0">L4440</text>
<text x="357.6" y="825" text-anchor="end" font-size="11" fill="#000">(1990)</text>
<text x="388.6" y="825" text-anchor="end" font-size="12" font-weight="bold" fill="#000">PciI</text>
<text x="509.1" y="65" font-size="12" font-weight="bold" fill="#000">PsiI</text>
<text x="542.8" y="65" font-size="11" fill="#000">(35)</text>
<text x="755.8" y="230" font-size="12" font-weight="bold" fill="#000">XmnI</text>
<text x="801.9" y="230" font-size="11" fill="#000">(502)</text>
<text x="772.9" y="255" font-size="12" font-weight="normal" fill="#a020f0">Amp-R</text>
<text x="823.7" y="255" font-size="11" fill="#a020f0">(533 .. 552)</text>
<text x="790.4" y="285" font-size="12" font-weight="bold" fill="#000">TatI</text>
<text x="826.7" y="285" font-size="11" fill="#000">(619)</text>
<text x="797" y="299" font-size="12" font-weight="bold" fill="#000">ScaI</text>
<text x="835.6" y="299" font-size="11" fill="#000">(621)</text>
<text x="828.3" y="531" font-size="12" font-weight="bold" fill="#000">BpmI</text>
<text x="872.8" y="531" font-size="11" fill="#000">(1033)</text>
<text x="818.1" y="572" font-size="12" font-weight="bold" fill="#000">AhdI</text>
<text x="859.9" y="572" font-size="11" fill="#000">(1102)</text>
<text x="637.3" y="789" font-size="12" font-weight="bold" fill="#000">AlwNI</text>
<text x="686.3" y="789" font-size="11" fill="#000">(1581)</text>
<text x="488.1" y="824" font-size="12" font-weight="normal" fill="#a020f0">pBR322ori-F</text>
<text x="572" y="824" font-size="11" fill="#a020f0">(1835 .. 1854)</text>
</g>
</svg>
</body></html>
